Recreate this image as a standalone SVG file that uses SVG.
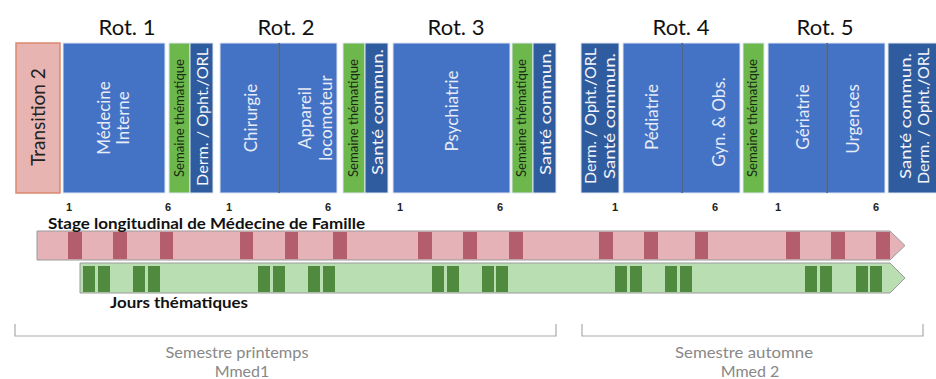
<svg xmlns="http://www.w3.org/2000/svg" width="936" height="379" viewBox="0 0 936 379">
<style>
.t{font-family:Lato,"Liberation Sans",sans-serif}
.rot{font-size:22px;fill:#111;text-anchor:middle}
.blk{fill:#4472c4;stroke:#dfe6f2;stroke-width:1}
.dk{fill:#2f5c9f;stroke:#dfe6f2;stroke-width:1}
.grn{fill:#6cb84d;stroke:#dfe6f2;stroke-width:1}
.div{stroke:#1c355e;stroke-width:1.2}
.w{fill:#f4f6fb;font-size:16px;text-anchor:middle}
.wl{fill:#e6ecf7;font-size:17px;text-anchor:middle}
.sm{fill:#1a2a12;font-size:12.5px;text-anchor:middle}
.num{font-family:"Liberation Sans",sans-serif;font-weight:bold;font-size:11px;fill:#222;text-anchor:middle}
.bl{font-family:Lato,"Liberation Sans",sans-serif;font-weight:bold;font-size:15px;fill:#111}
.pm{fill:#b45d6c}
.gm{fill:#4f8a3f}
.br{fill:none;stroke:#aaa;stroke-width:1.2}
.sem{font-size:16px;fill:#888;text-anchor:middle}
</style>

<g id="rot-labels" class="t">
<text class="rot t" x="127" y="35">Rot. 1</text>
<text class="rot t" x="286" y="35">Rot. 2</text>
<text class="rot t" x="456" y="35">Rot. 3</text>
<text class="rot t" x="681" y="35">Rot. 4</text>
<text class="rot t" x="825" y="35">Rot. 5</text>
</g>

<g id="transition2">
<rect x="16" y="43" width="44" height="150" fill="#e8b4b2" stroke="#d98a70" stroke-width="1.5"/>
<text class="t" transform="translate(38,117) rotate(-90)" text-anchor="middle" dy="0.35em" font-size="19" fill="#222">Transition 2</text>
</g>

<g id="medecine-interne">
<rect class="blk" x="63" y="43" width="102" height="150"/>
<text class="t wl" transform="translate(104,118) rotate(-90)" dy="0.35em">Médecine</text>
<text class="t wl" transform="translate(123,118) rotate(-90)" dy="0.35em">Interne</text>
</g>

<g id="semaine1">
<rect class="grn" x="169" y="43" width="21" height="150"/>
<text class="t sm" transform="translate(180,118) rotate(-90)" dy="0.35em" textLength="118" lengthAdjust="spacingAndGlyphs">Semaine thématique</text>
</g>
<g id="derm1">
<rect class="dk" x="190" y="43" width="23" height="150"/>
<text class="t w" transform="translate(202,117) rotate(-90)" dy="0.35em" textLength="138" lengthAdjust="spacingAndGlyphs">Derm. / Opht./ORL</text>
</g>

<g id="chirurgie">
<rect class="blk" x="220" y="43" width="59" height="150"/>
<text class="t wl" transform="translate(251,118) rotate(-90)" dy="0.35em">Chirurgie</text>
</g>
<g id="appareil-locomoteur">
<rect class="blk" x="279" y="43" width="58" height="150"/>
<line class="div" x1="279" y1="43" x2="279" y2="193"/>
<text class="t wl" transform="translate(305,118) rotate(-90)" dy="0.35em">Appareil</text>
<text class="t wl" transform="translate(326,118) rotate(-90)" dy="0.35em">locomoteur</text>
</g>

<g id="semaine2">
<rect class="grn" x="343" y="43" width="22" height="150"/>
<text class="t sm" transform="translate(354,118) rotate(-90)" dy="0.35em" textLength="118" lengthAdjust="spacingAndGlyphs">Semaine thématique</text>
</g>
<g id="sante2">
<rect class="dk" x="365" y="43" width="23" height="150"/>
<text class="t w" transform="translate(377,112) rotate(-90)" dy="0.35em" textLength="126" lengthAdjust="spacingAndGlyphs">Santé commun.</text>
</g>

<g id="psychiatrie">
<rect class="blk" x="393" y="43" width="117" height="150"/>
<text class="t wl" transform="translate(452,111) rotate(-90)" dy="0.35em">Psychiatrie</text>
</g>

<g id="semaine3">
<rect class="grn" x="512" y="43" width="21" height="150"/>
<text class="t sm" transform="translate(522,118) rotate(-90)" dy="0.35em" textLength="118" lengthAdjust="spacingAndGlyphs">Semaine thématique</text>
</g>
<g id="sante3">
<rect class="dk" x="533" y="43" width="23" height="150"/>
<text class="t w" transform="translate(545,112) rotate(-90)" dy="0.35em" textLength="126" lengthAdjust="spacingAndGlyphs">Santé commun.</text>
</g>

<g id="derm-sante4">
<rect class="dk" x="581" y="43" width="38" height="150"/>
<text class="t w" transform="translate(590,116) rotate(-90)" dy="0.35em" font-size="15" textLength="136" lengthAdjust="spacingAndGlyphs">Derm. / Opht./ORL</text>
<text class="t w" transform="translate(609,116) rotate(-90)" dy="0.35em" font-size="15" textLength="126" lengthAdjust="spacingAndGlyphs">Santé commun.</text>
</g>

<g id="pediatrie">
<rect class="blk" x="623" y="43" width="59" height="150"/>
<text class="t wl" transform="translate(652,117) rotate(-90)" dy="0.35em">Pédiatrie</text>
</g>
<g id="gyn-obs">
<rect class="blk" x="682" y="43" width="58" height="150"/>
<line class="div" x1="682" y1="43" x2="682" y2="193"/>
<text class="t wl" transform="translate(719,122) rotate(-90)" dy="0.35em">Gyn. &amp; Obs.</text>
</g>

<g id="semaine4">
<rect class="grn" x="743" y="43" width="21" height="150"/>
<text class="t sm" transform="translate(753,118) rotate(-90)" dy="0.35em" textLength="118" lengthAdjust="spacingAndGlyphs">Semaine thématique</text>
</g>

<g id="geriatrie">
<rect class="blk" x="768" y="43" width="59" height="150"/>
<text class="t wl" transform="translate(803,117) rotate(-90)" dy="0.35em">Gériatrie</text>
</g>
<g id="urgences">
<rect class="blk" x="827" y="43" width="58" height="150"/>
<line class="div" x1="827" y1="43" x2="827" y2="193"/>
<text class="t wl" transform="translate(853,119) rotate(-90)" dy="0.35em">Urgences</text>
</g>

<g id="sante-derm5">
<rect class="dk" x="888" y="43" width="50" height="150"/>
<text class="t w" transform="translate(905,116) rotate(-90)" dy="0.35em" font-size="15" textLength="126" lengthAdjust="spacingAndGlyphs">Santé commun.</text>
<text class="t w" transform="translate(923,116) rotate(-90)" dy="0.35em" font-size="15" textLength="136" lengthAdjust="spacingAndGlyphs">Derm. / Opht./ORL</text>
</g>

<g id="week-numbers">
<text class="num" x="69" y="211">1</text>
<text class="num" x="168" y="211">6</text>
<text class="num" x="229" y="211">1</text>
<text class="num" x="328" y="211">6</text>
<text class="num" x="400" y="211">1</text>
<text class="num" x="500" y="211">6</text>
<text class="num" x="615" y="211">1</text>
<text class="num" x="715" y="211">6</text>
<text class="num" x="778" y="211">1</text>
<text class="num" x="876" y="211">6</text>
</g>

<g id="stage-longitudinal">
<path d="M37 231 H890 L905 245.5 L890 260 H37 Z" fill="#e5b2b8" stroke="#9a9a9a" stroke-width="1"/>
<rect class="pm" x="68" y="232" width="14" height="27"/>
<rect class="pm" x="113" y="232" width="14" height="27"/>
<rect class="pm" x="160" y="232" width="13" height="27"/>
<rect class="pm" x="240" y="232" width="13" height="27"/>
<rect class="pm" x="285" y="232" width="13" height="27"/>
<rect class="pm" x="333" y="232" width="14" height="27"/>
<rect class="pm" x="418" y="232" width="14" height="27"/>
<rect class="pm" x="463" y="232" width="14" height="27"/>
<rect class="pm" x="509" y="232" width="14" height="27"/>
<rect class="pm" x="599" y="232" width="14" height="27"/>
<rect class="pm" x="644" y="232" width="14" height="27"/>
<rect class="pm" x="695" y="232" width="13" height="27"/>
<rect class="pm" x="786" y="232" width="14" height="27"/>
<rect class="pm" x="831" y="232" width="14" height="27"/>
<rect class="pm" x="876" y="232" width="14" height="27"/>
<text class="bl" x="48" y="229" textLength="317" lengthAdjust="spacingAndGlyphs">Stage longitudinal de Médecine de Famille</text>
</g>

<g id="jours-thematiques">
<path d="M80 263 H890 L905 278 L890 293 H80 Z" fill="#b9deb1" stroke="#9a9a9a" stroke-width="1"/>
<g class="gm">
<rect x="83" y="266" width="12" height="26"/><rect x="98" y="266" width="12" height="26"/>
<rect x="133" y="266" width="12" height="26"/><rect x="148" y="266" width="12" height="26"/>
<rect x="258" y="266" width="12" height="26"/><rect x="273" y="266" width="12" height="26"/>
<rect x="308" y="266" width="12" height="26"/><rect x="323" y="266" width="12" height="26"/>
<rect x="432" y="266" width="12" height="26"/><rect x="447" y="266" width="12" height="26"/>
<rect x="482" y="266" width="12" height="26"/><rect x="496" y="266" width="12" height="26"/>
<rect x="615" y="266" width="12" height="26"/><rect x="630" y="266" width="12" height="26"/>
<rect x="665" y="266" width="12" height="26"/><rect x="680" y="266" width="12" height="26"/>
<rect x="805" y="266" width="12" height="26"/><rect x="820" y="266" width="12" height="26"/>
<rect x="856" y="266" width="12" height="26"/><rect x="870" y="266" width="12" height="26"/>
</g>
<text class="bl" x="110" y="308" textLength="138" lengthAdjust="spacingAndGlyphs">Jours thématiques</text>
</g>

<g id="semestre-printemps">
<path class="br" d="M15 324 V336 H556 V324"/>
<text class="t sem" x="237" y="358" textLength="143" lengthAdjust="spacingAndGlyphs">Semestre printemps</text>
<text class="t sem" x="242" y="377">Mmed1</text>
</g>
<g id="semestre-automne">
<path class="br" d="M582 324 V336 H923 V324"/>
<text class="t sem" x="744" y="358" textLength="138" lengthAdjust="spacingAndGlyphs">Semestre automne</text>
<text class="t sem" x="750" y="377">Mmed 2</text>
</g>
</svg>
